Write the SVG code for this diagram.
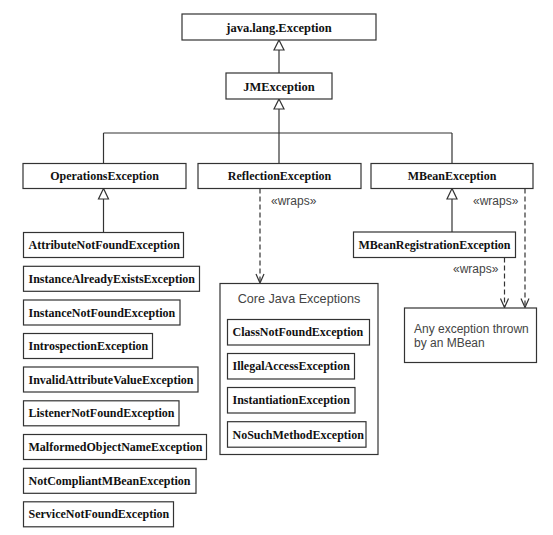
<svg xmlns="http://www.w3.org/2000/svg" width="553" height="535" viewBox="0 0 553 535">
<style>
.box{fill:#fff;stroke:#333;stroke-width:1.2}
.t{font-family:"Liberation Serif","Times New Roman",serif;font-weight:bold;font-size:12px;fill:#111}
.tc{text-anchor:middle}
.s{font-family:"Liberation Sans",Arial,sans-serif;font-size:12px;fill:#444}
.ln{fill:none;stroke:#333;stroke-width:1.2}
.dash{fill:none;stroke:#333;stroke-width:1.2;stroke-dasharray:5,3}
.tri{fill:#fff;stroke:#333;stroke-width:1.2}
</style>
<defs>
<marker id="open" markerUnits="userSpaceOnUse" markerWidth="12" markerHeight="12" refX="10" refY="5" orient="auto" viewBox="0 0 12 10">
<path d="M1,1 L10,5 L1,9" fill="none" stroke="#333" stroke-width="1.2"/>
</marker>
</defs>
<rect width="553" height="535" fill="#fff"/>
<g id="connectors">
<polygon class="tri" points="279,40 274,50 284,50"/>
<line class="ln" x1="279" y1="50" x2="279" y2="73"/>
<polygon class="tri" points="279,99 274,109 284,109"/>
<line class="ln" x1="279" y1="109" x2="279" y2="133"/>
<line class="ln" x1="103.5" y1="133" x2="452" y2="133"/>
<line class="ln" x1="103.5" y1="133" x2="103.5" y2="163.5"/>
<line class="ln" x1="279" y1="133" x2="279" y2="163.5"/>
<line class="ln" x1="452" y1="133" x2="452" y2="163.5"/>
<polygon class="tri" points="103.5,188.5 98.5,199 108.5,199"/>
<line class="ln" x1="103.5" y1="199" x2="103.5" y2="232.5"/>
<polygon class="tri" points="452,188.5 447,199 457,199"/>
<line class="ln" x1="452" y1="199" x2="452" y2="232"/>
<line class="dash" x1="260" y1="188.5" x2="260" y2="283" marker-end="url(#open)"/>
<line class="dash" x1="525" y1="188.5" x2="525" y2="307.5" marker-end="url(#open)"/>
<line class="dash" x1="504.5" y1="257.5" x2="504.5" y2="307.5" marker-end="url(#open)"/>
<text class="s" x="271" y="205">«wraps»</text>
<text class="s" x="473" y="205">«wraps»</text>
<text class="s" x="453" y="273">«wraps»</text>
</g>
<g id="java-lang-exception"><rect class="box" x="182" y="14" width="194" height="26"/><text class="t tc" x="279" y="31.5" style="font-size:12.5px">java.lang.Exception</text></g>
<g id="jmexception"><rect class="box" x="226" y="73" width="106" height="26"/><text class="t tc" x="279" y="90.5" style="font-size:12.5px">JMException</text></g>
<g id="operations"><rect class="box" x="23" y="163.5" width="163" height="25"/><text class="t tc" x="104.5" y="180">OperationsException</text></g>
<g id="reflection"><rect class="box" x="198" y="163.5" width="163" height="25"/><text class="t tc" x="279.5" y="180">ReflectionException</text></g>
<g id="mbean"><rect class="box" x="371" y="163.5" width="162" height="25"/><text class="t tc" x="452" y="180">MBeanException</text></g>
<g id="mbeanreg"><rect class="box" x="353.5" y="232" width="162" height="25.5"/><text class="t" x="358.5" y="249">MBeanRegistrationException</text></g>
<g id="attr-not-found"><rect class="box" x="23.5" y="232.5" width="160" height="25"/><text class="t" x="28.5" y="249">AttributeNotFoundException</text></g>
<g id="inst-exists"><rect class="box" x="23.5" y="266.3" width="176" height="25"/><text class="t" x="28.5" y="282.8">InstanceAlreadyExistsException</text></g>
<g id="inst-not-found"><rect class="box" x="23.5" y="300" width="156.5" height="25"/><text class="t" x="28.5" y="316.5">InstanceNotFoundException</text></g>
<g id="introspection"><rect class="box" x="23.5" y="333.5" width="129" height="25"/><text class="t" x="28.5" y="350">IntrospectionException</text></g>
<g id="invalid-attr"><rect class="box" x="23.5" y="367" width="174.5" height="25"/><text class="t" x="28.5" y="383.5">InvalidAttributeValueException</text></g>
<g id="listener"><rect class="box" x="23.5" y="400.8" width="155.5" height="25"/><text class="t" x="28.5" y="417.3">ListenerNotFoundException</text></g>
<g id="malformed"><rect class="box" x="23.5" y="434.5" width="183" height="25"/><text class="t" x="28.5" y="451">MalformedObjectNameException</text></g>
<g id="notcompliant"><rect class="box" x="23.5" y="468.3" width="172.5" height="25"/><text class="t" x="28.5" y="484.8">NotCompliantMBeanException</text></g>
<g id="service"><rect class="box" x="23.5" y="501.8" width="150" height="25"/><text class="t" x="28.5" y="518.3">ServiceNotFoundException</text></g>
<g id="core-java"><rect class="box" x="220" y="283.5" width="158" height="171"/><text class="s tc" x="299" y="302.5" style="font-size:12.6px">Core Java Exceptions</text></g>
<g id="class-not-found"><rect class="box" x="227.5" y="319.5" width="142" height="25.5"/><text class="t" x="232.5" y="336.3">ClassNotFoundException</text></g>
<g id="illegal-access"><rect class="box" x="227.5" y="353.5" width="127" height="25.5"/><text class="t" x="232.5" y="370.3">IllegalAccessException</text></g>
<g id="instantiation"><rect class="box" x="227.5" y="387.5" width="127.5" height="25.5"/><text class="t" x="232.5" y="404.3">InstantiationException</text></g>
<g id="no-such-method"><rect class="box" x="227.5" y="421.7" width="138.5" height="25.5"/><text class="t" x="232.5" y="438.5">NoSuchMethodException</text></g>
<g id="any-exception"><rect class="box" x="404.5" y="308" width="132" height="54.5"/><text class="s" x="414" y="332.5">Any exception thrown</text><text class="s" x="414" y="346.5">by an MBean</text></g>
</svg>
